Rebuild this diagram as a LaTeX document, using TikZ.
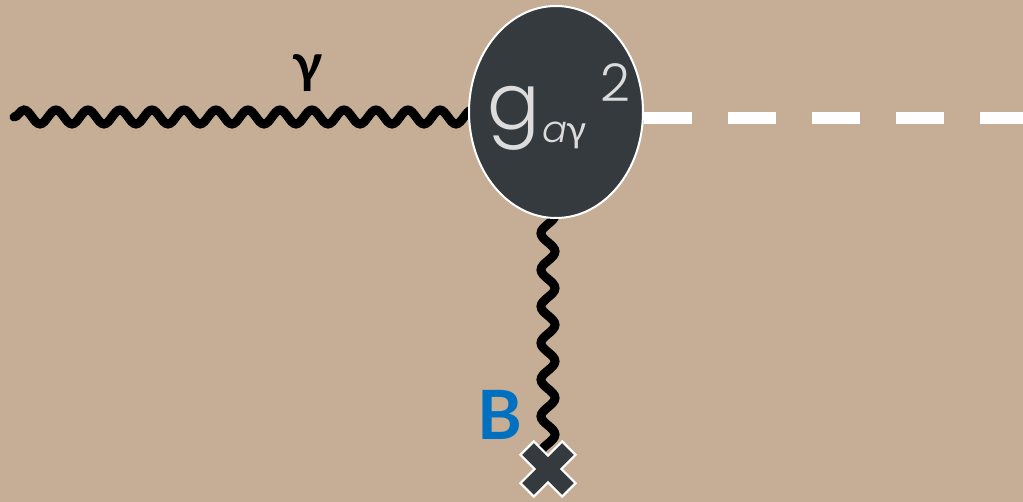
\documentclass[tikz,border=0pt]{standalone}
\usepackage{fontspec}
\usetikzlibrary{shapes.geometric,decorations.pathmorphing}
\IfFontExistsTF{Poppins Light}{\newfontfamily\pop{Poppins Light}}{\newfontfamily\pop{Poppins}}
\newfontfamily\lat{Lato}
\definecolor{bg}{HTML}{C5AE95}
\definecolor{dark}{HTML}{343A3D}
\definecolor{lightg}{HTML}{DCDCDC}
\definecolor{bblue}{HTML}{0070C0}
\tikzset{
  wave/.style={draw=black, line width=9pt, line cap=round, decorate, decoration={snake, amplitude=7pt}},
  vertexblob/.style={ellipse, fill=dark, draw=white, line width=2pt, minimum width=174pt, minimum height=212pt, inner sep=0pt},
  scalarline/.style={draw=white, line width=12pt, dash pattern=on 48pt off 36pt},
  crossmark/.style={fill=dark, draw=white, line width=2.2pt, line join=miter},
  lbl/.style={inner sep=0pt, outer sep=0pt}
}
\begin{document}
\begin{tikzpicture}[x=1pt,y=1pt]
\fill[bg] (0,0) rectangle (1023,-502);
\useasboundingbox (0,0) rectangle (1023,-502);
\coordinate (pin) at (14,-117);
\coordinate (vc) at (556,-112);
\coordinate (xc) at (548,-469);
\coordinate (pout) at (1030,-118);
% photon and field lines run under the vertex blob
\draw[wave, decoration={segment length=32pt}] (pin) -- (pin -| vc);
\draw[wave, decoration={segment length=36.6pt, mirror}] (vc -| xc) -- (xc);
\node[vertexblob] (v) at (vc) {};
\draw[scalarline] (v.east |- pout) -- (pout);
\filldraw[crossmark, shift={(xc)}, rotate=45]
  (9.5,9.5) -- (29.5,9.5) -- (29.5,-9.5) -- (9.5,-9.5) -- (9.5,-29.5) -- (-9.5,-29.5) -- (-9.5,-9.5)
  -- (-29.5,-9.5) -- (-29.5,9.5) -- (-9.5,9.5) -- (-9.5,29.5) -- (9.5,29.5) -- cycle;
\node[lbl, anchor=base west, text=lightg, font=\pop\fontsize{78}{78}\selectfont] (g) at (487,-130) {g};
\node[lbl, anchor=base west, text=lightg, font=\fontsize{37}{37}\selectfont] (sub) at (542,-143) {{\pop\itshape a}{\lat γ}};
\node[lbl, anchor=base west, text=lightg, font=\pop\fontsize{52}{52}\selectfont] (sup) at (600,-102) {2};
\node[lbl, text=black, font=\lat\bfseries\fontsize{54}{54}\selectfont] (gam) at (308,-73) {γ};
\node[lbl, text=bblue, font=\lat\bfseries\fontsize{68}{68}\selectfont] (B) at (500,-415) {B};
\end{tikzpicture}
\end{document}
